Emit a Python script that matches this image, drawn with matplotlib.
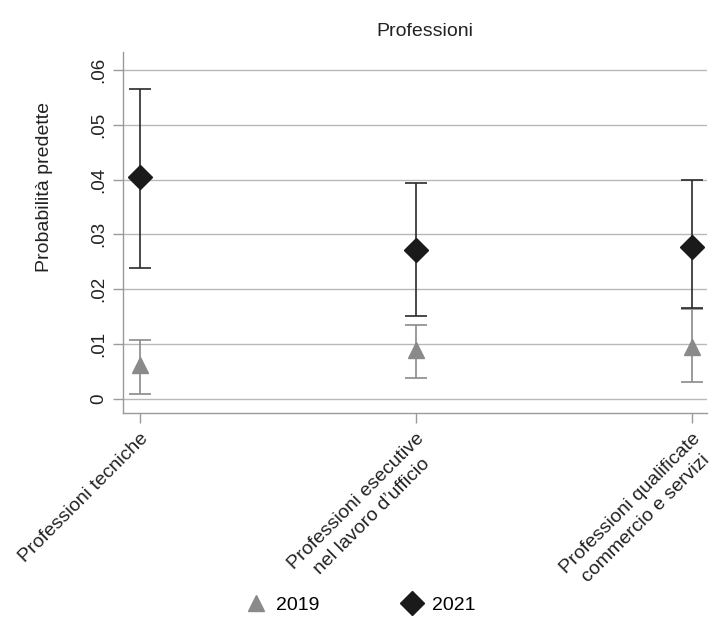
import matplotlib
matplotlib.use("Agg")
import matplotlib.pyplot as plt
from matplotlib.lines import Line2D
import numpy as np

plt.rcParams['font.family'] = ['Liberation Sans Narrow', 'Liberation Sans', 'DejaVu Sans']

categories = ["Professioni tecniche",
              "Professioni esecutive\nnel lavoro d\u2019ufficio",
              "Professioni qualificate\ncommercio e servizi"]
p2019 = [0.0062, 0.0089, 0.0095]
lo2019 = [0.0009, 0.0038, 0.0031]
hi2019 = [0.0107, 0.0135, 0.0163]
p2021 = [0.0404, 0.0272, 0.0277]
lo2021 = [0.0238, 0.0151, 0.0166]
hi2021 = [0.0566, 0.0394, 0.0399]
yticks = [0, 0.01, 0.02, 0.03, 0.04, 0.05, 0.06]
yticklabels = ["0", ".01", ".02", ".03", ".04", ".05", ".06"]

fig = plt.figure(figsize=(7.21, 6.2), dpi=100)
ax = fig.add_axes([123/721, 1-413/620, (707-123)/721, (413-52)/620])

x = np.arange(len(categories))
c19 = "#8a8a8a"
c21 = "#1a1a1a"

ax.errorbar(x, p2019, yerr=[np.array(p2019)-np.array(lo2019), np.array(hi2019)-np.array(p2019)],
            fmt='none', ecolor=c19, elinewidth=1.2, capsize=8, capthick=1.2, zorder=3)
ax.errorbar(x, p2021, yerr=[np.array(p2021)-np.array(lo2021), np.array(hi2021)-np.array(p2021)],
            fmt='none', ecolor="#2a2a2a", elinewidth=1.2, capsize=8, capthick=1.2, zorder=4)
ax.plot(x, p2019, linestyle='none', marker='^', color=c19, markersize=11, zorder=5)
ax.plot(x, p2021, linestyle='none', marker='D', color=c21, markersize=12, zorder=6)

ax.set_xlim(-0.0616, 2.054)
ax.set_ylim(-0.0026, 0.0633)
ax.set_yticks(yticks)
ax.set_yticklabels(yticklabels, rotation=90, va='center', fontsize=13.5)
ax.set_xticks(x)
ax.set_xticklabels(categories, rotation=45, ha='right', va='top', rotation_mode='anchor',
                   fontsize=14, multialignment='center', linespacing=1.35)
ax.yaxis.grid(True, color="#b8b8b8", linewidth=1.0)
ax.set_axisbelow(True)
for s in ['top', 'right']:
    ax.spines[s].set_visible(False)
for s in ['left', 'bottom']:
    ax.spines[s].set_color("#9a9a9a")
    ax.spines[s].set_linewidth(1.0)
ax.tick_params(axis='both', colors="#9a9a9a", labelcolor="#222222", length=7, width=1.0)
ax.tick_params(axis='y', pad=4)
ax.tick_params(axis='x', pad=5)

ax.set_ylabel("Probabilit\u00e0 predette", fontsize=14, color="#222222")
ax.yaxis.set_label_coords(-0.12, 0.626)
fig.text(425/721, 1-31/620, "Professioni", ha='center', va='center', fontsize=14, color="#222222")

handles = [Line2D([], [], linestyle='none', marker='^', color=c19, markersize=11),
           Line2D([], [], linestyle='none', marker='D', color=c21, markersize=12)]
fig.legend(handles, ["2019", "2021"], loc='center', bbox_to_anchor=(360/721, 1-605/620),
           ncol=2, frameon=False, fontsize=14, handletextpad=0.4, columnspacing=4.2,
           handlelength=1.2)

fig.savefig("out.png", dpi=100)
